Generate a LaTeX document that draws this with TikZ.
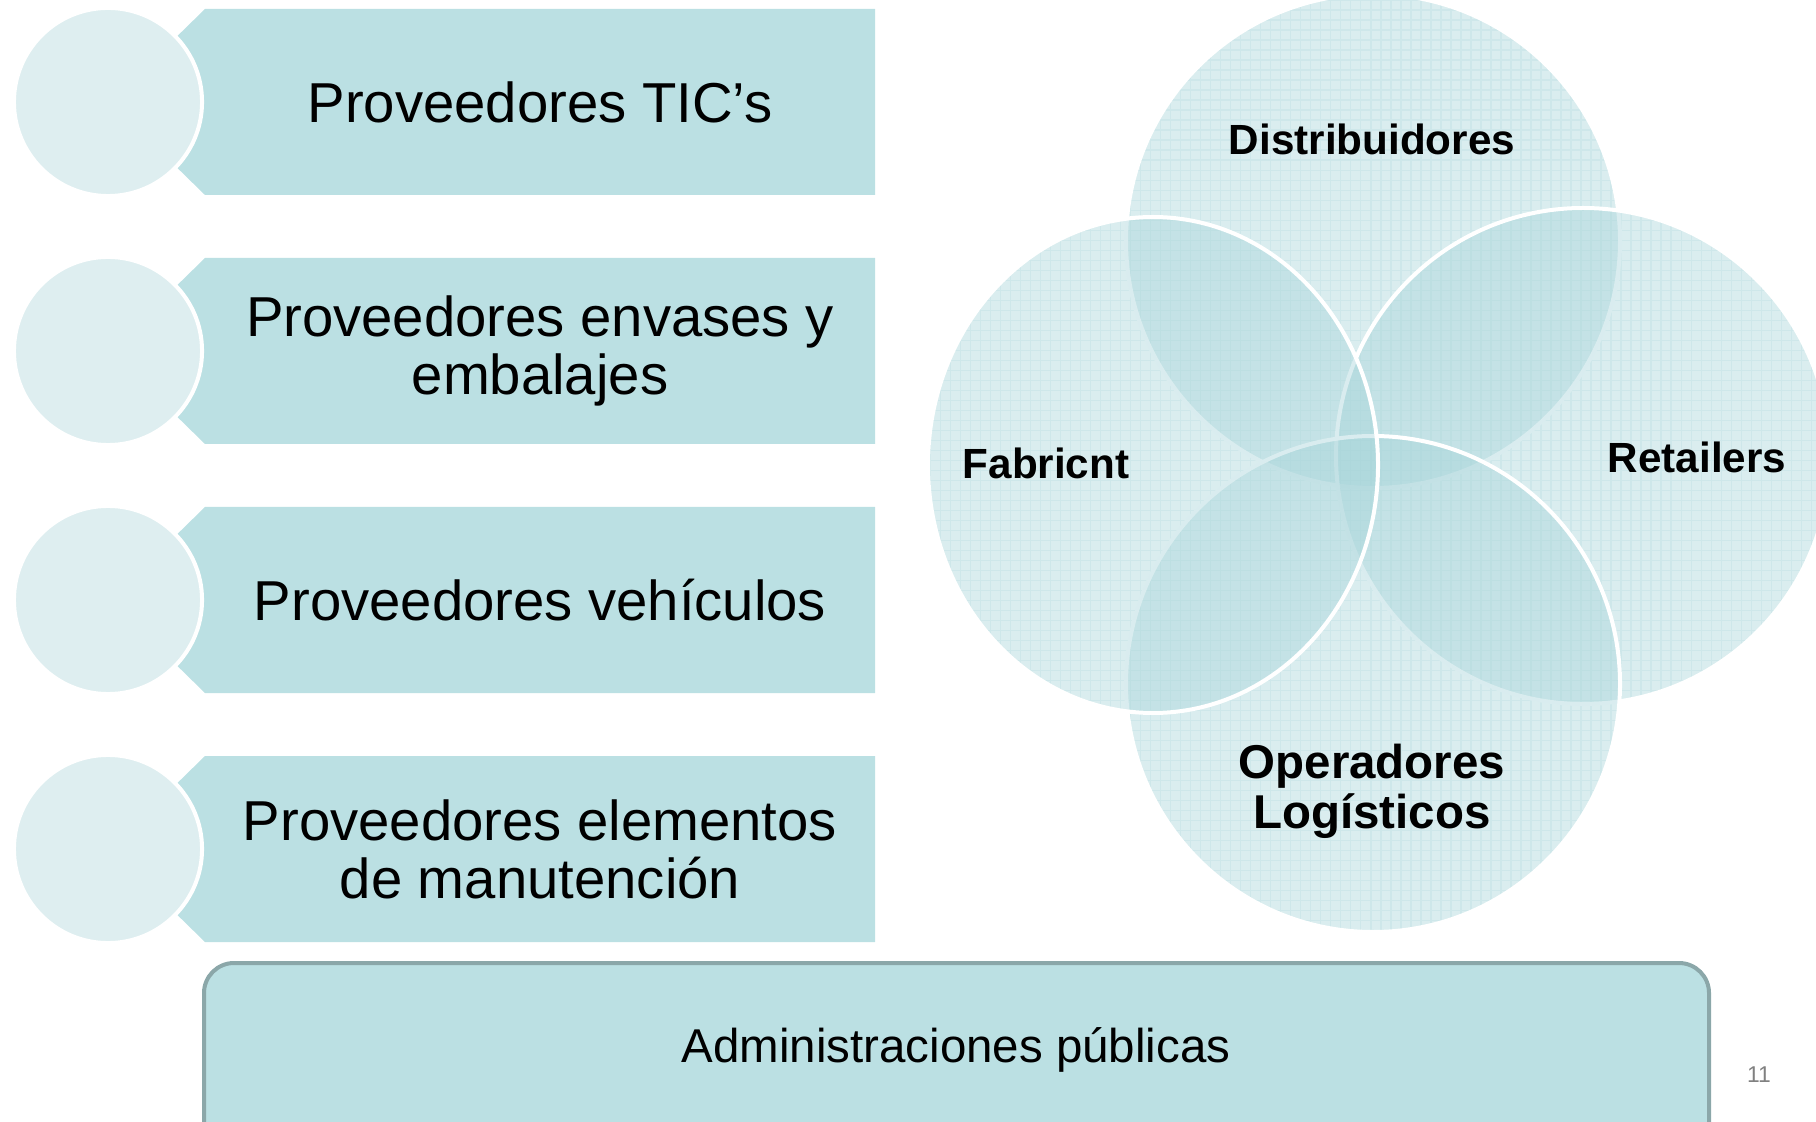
\documentclass[tikz,border=0pt]{standalone}
\usepackage{fontspec}
\setmainfont{Liberation Sans}
\definecolor{tira}{HTML}{BBE0E3}
\definecolor{circulo}{HTML}{DEEEF0}
\definecolor{azul}{HTML}{A6D4D9}
\definecolor{borde}{HTML}{8BA7A9}
\begin{document}
\begin{tikzpicture}[x=0.01cm, y=-0.01cm, line join=round, line cap=round,
		disco/.style={circle, fill=circulo, draw=white, line width=0.04cm, minimum size=1.88cm, inner sep=0pt},
		venn/.style={fill=azul, fill opacity=0.42, draw=white, draw opacity=1, line width=0.04cm},
		texto/.style={font=\fontsize{16pt}{16.5pt}\selectfont, align=center},
		rotulo/.style={font=\bfseries\fontsize{12pt}{14pt}\selectfont, align=center}]
		\useasboundingbox (0,0) rectangle (1816,1122);
		\clip (0,0) rectangle (1816,1122);
		% proveedores
		\foreach \y/\txt [count=\i] in {102/{Proveedores TIC’s}, 351/{Proveedores envases y\\embalajes}, 600/{Proveedores vehículos}, 849/{Proveedores elementos\\de manutención}}{
			\fill[tira] (205,\y-93)--(875,\y-93)--(875,\y+93)--(205,\y+93)--(110,\y)--cycle;
			\node[disco] (disco\i) at (108,\y) {};
			\node[texto] (prov\i) at (540,\y) {\txt};
		}
		% trama de la venn
		\begin{scope}
			\clip (1373,241) ellipse [x radius=247, y radius=247] (1583,456) ellipse [x radius=247, y radius=248]
			(1373,684) ellipse [x radius=247, y radius=248] (1153,465) ellipse [x radius=225, y radius=248];
			\draw[azul!22, line width=0.012cm, step=0.1cm] (900,0) grid (1816,950);
		\end{scope}
		\path[venn] (1373,241) ellipse [x radius=247, y radius=247];
		\path[venn] (1583,456) ellipse [x radius=247, y radius=248];
		\path[venn] (1373,684) ellipse [x radius=247, y radius=248];
		\path[venn] (1153,465) ellipse [x radius=225, y radius=248];
		\node[rotulo] (distrib) at (1372,139) {Distribuidores};
		\node[rotulo] (fabric) at (1046,463) {Fabricnt};
		\node[rotulo] (retail) at (1697,457) {Retailers};
		\node[rotulo, font=\bfseries\fontsize{13.5pt}{14.2pt}\selectfont] (operad) at (1372,791) {Operadores\\Logísticos};
		% administraciones
		\draw[fill=tira, draw=borde, line width=0.04cm, rounded corners=0.3cm] (204,963) rectangle (1709,1180);
		\node[font=\fontsize{13.5pt}{16pt}\selectfont] (admin) at (956,1050) {Administraciones públicas};
		\node[font=\fontsize{6.5pt}{8pt}\selectfont, text=gray] (pagina) at (1759,1075) {11};
\end{tikzpicture}
\end{document}
